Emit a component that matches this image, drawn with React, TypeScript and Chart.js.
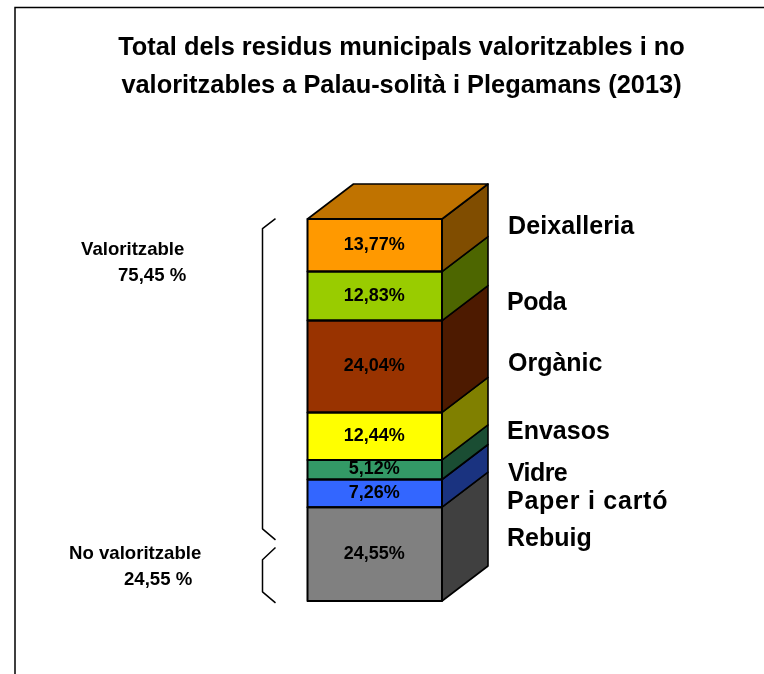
import { useEffect, useRef } from "react";
import { Chart, registerables } from "chart.js";

Chart.register(...registerables);

const titleLines = [
  "Total dels residus municipals valoritzables i no",
  "valoritzables a Palau-solità i Plegamans (2013)",
];
const categories = ["Residus municipals"];
// bottom to top
const segmentNames = ["Rebuig", "Paper i cartó", "Vidre", "Envasos", "Orgànic", "Poda", "Deixalleria"];
const segmentValues = [24.55, 7.26, 5.12, 12.44, 24.04, 12.83, 13.77];
const frontColors = ["#808080", "#3366FF", "#339966", "#FFFF00", "#993300", "#99CC00", "#FF9900"];
const sideColors = ["#404040", "#1A3380", "#1A4D33", "#808000", "#4D1A00", "#4D6600", "#804D00"];
const topColor = "#C07300";

const groupLabels = [
  ["Valoritzable", "75,45 %"],
  ["No valoritzable", "24,55 %"],
];

// layout constants (pixels), separate from data
const FONT = '"Liberation Sans", Arial, sans-serif';
const DEPTH_X = 46;
const DEPTH_Y = 35;
const segmentLabelX = [507, 507, 508, 507, 508, 507, 508];
const segmentLabelY = [539, 502, 474, 432, 364, 303, 227];
const segmentLabelSpacing = [0, 0.75, -0.6, 0, 0, -0.5, 0.1];
const groupLabelPos = [
  [[81, 250], [118, 276]],
  [[69, 554], [124, 580]],
];
const bracketX = [-32, -45];
// bracket vertices expressed on the value axis
const bracketValues = [
  [100.1, 97.5, 18.9, 16],
  [14, 10.8, 2.4, -0.5],
];

const cube3d = {
  id: "cube3d",
  beforeDraw(chart: any) {
    const { ctx } = chart;
    ctx.save();
    ctx.fillStyle = "#fff";
    ctx.fillRect(0, 0, chart.width, chart.height);
    ctx.strokeStyle = "#000";
    ctx.lineWidth = 1.5;
    ctx.beginPath();
    ctx.moveTo(15, chart.height);
    ctx.lineTo(15, 7.5);
    ctx.lineTo(chart.width, 7.5);
    ctx.stroke();
    ctx.restore();
  },
  afterDatasetsDraw(chart: any) {
    const { ctx, scales, chartArea } = chart;
    ctx.save();
    ctx.strokeStyle = "#000";
    ctx.lineWidth = 1.6;
    ctx.lineJoin = "round";
    const bars = chart.data.datasets.map((_: any, i: number) => chart.getDatasetMeta(i).data[0]);
    // side faces, bottom to top
    bars.forEach((b: any, i: number) => {
      const r = b.x + b.width / 2;
      ctx.fillStyle = sideColors[i];
      ctx.beginPath();
      ctx.moveTo(r, b.base);
      ctx.lineTo(r + DEPTH_X, b.base - DEPTH_Y);
      ctx.lineTo(r + DEPTH_X, b.y - DEPTH_Y);
      ctx.lineTo(r, b.y);
      ctx.closePath();
      ctx.fill();
      ctx.stroke();
    });
    // top face
    const t = bars[bars.length - 1];
    const l = t.x - t.width / 2;
    const rr = t.x + t.width / 2;
    ctx.fillStyle = topColor;
    ctx.beginPath();
    ctx.moveTo(l, t.y);
    ctx.lineTo(l + DEPTH_X, t.y - DEPTH_Y);
    ctx.lineTo(rr + DEPTH_X, t.y - DEPTH_Y);
    ctx.lineTo(rr, t.y);
    ctx.closePath();
    ctx.fill();
    ctx.stroke();
    // front outlines and value labels
    ctx.lineWidth = 2;
    bars.forEach((b: any) => {
      ctx.strokeRect(b.x - b.width / 2, b.y, b.width, b.base - b.y);
    });
    ctx.fillStyle = "#000";
    ctx.textAlign = "center";
    ctx.textBaseline = "middle";
    ctx.font = `bold 18px ${FONT}`;
    bars.forEach((b: any, i: number) => {
      const txt = segmentValues[i].toFixed(2).replace(".", ",") + "%";
      ctx.fillText(txt, b.x - 0.5, (b.y + b.base) / 2 - 0.5);
    });
    // segment names
    ctx.textAlign = "left";
    ctx.font = `bold 25px ${FONT}`;
    segmentNames.forEach((name, i) => {
      ctx.letterSpacing = `${segmentLabelSpacing[i]}px`;
      ctx.fillText(name, segmentLabelX[i], segmentLabelY[i]);
    });
    ctx.letterSpacing = "0px";
    // group labels
    ctx.font = `bold 18.6px ${FONT}`;
    groupLabels.forEach((lines, g) =>
      lines.forEach((line, k) => ctx.fillText(line, groupLabelPos[g][k][0], groupLabelPos[g][k][1]))
    );
    // brackets
    ctx.lineWidth = 1.5;
    bracketValues.forEach((vals) => {
      const xs = [bracketX[0], bracketX[1], bracketX[1], bracketX[0]];
      ctx.beginPath();
      vals.forEach((v, i) => {
        const px = chartArea.left + xs[i];
        const py = scales.y.getPixelForValue(v);
        if (i === 0) ctx.moveTo(px, py);
        else ctx.lineTo(px, py);
      });
      ctx.stroke();
    });
    ctx.restore();
  },
};

export default function App() {
  const ref = useRef<HTMLCanvasElement | null>(null);
  useEffect(() => {
    const total = segmentValues.reduce((a, b) => a + b, 0);
    const chart = new Chart(ref.current as HTMLCanvasElement, {
      type: "bar",
      data: {
        labels: categories,
        datasets: segmentNames.map((name, i) => ({
          label: name,
          data: [segmentValues[i]],
          backgroundColor: frontColors[i],
          borderWidth: 0,
          barPercentage: 1,
          categoryPercentage: 1,
          clip: false,
        })),
      },
      options: {
        responsive: false,
        animation: false,
        events: [],
        layout: { padding: { left: 39, right: 0, top: 0, bottom: 73 } },
        plugins: {
          legend: { display: false },
          tooltip: { enabled: false },
          title: {
            display: true,
            text: titleLines,
            color: "#000",
            font: { family: FONT, size: 25.4, weight: "bold", lineHeight: 1.5 },
            padding: { top: 28.5, bottom: 114.3 },
          },
        },
        scales: {
          x: { stacked: true, display: false },
          y: {
            stacked: true,
            min: 0,
            max: total,
            position: "left",
            ticks: { display: false },
            grid: { display: false },
            border: { display: false },
            afterFit(s: any) {
              s.width = 268.5;
            },
          },
          y2: {
            min: 0,
            max: total,
            position: "right",
            ticks: { display: false },
            grid: { display: false },
            border: { display: false },
            afterFit(s: any) {
              s.width = 322;
            },
          },
        },
      } as any,
      plugins: [cube3d],
    });
    return () => chart.destroy();
  }, []);
  return (
    <canvas
      ref={ref}
      width={764}
      height={674}
      style={{ position: "absolute", left: 0, top: 0, width: 764, height: 674, display: "block" }}
    />
  );
}
